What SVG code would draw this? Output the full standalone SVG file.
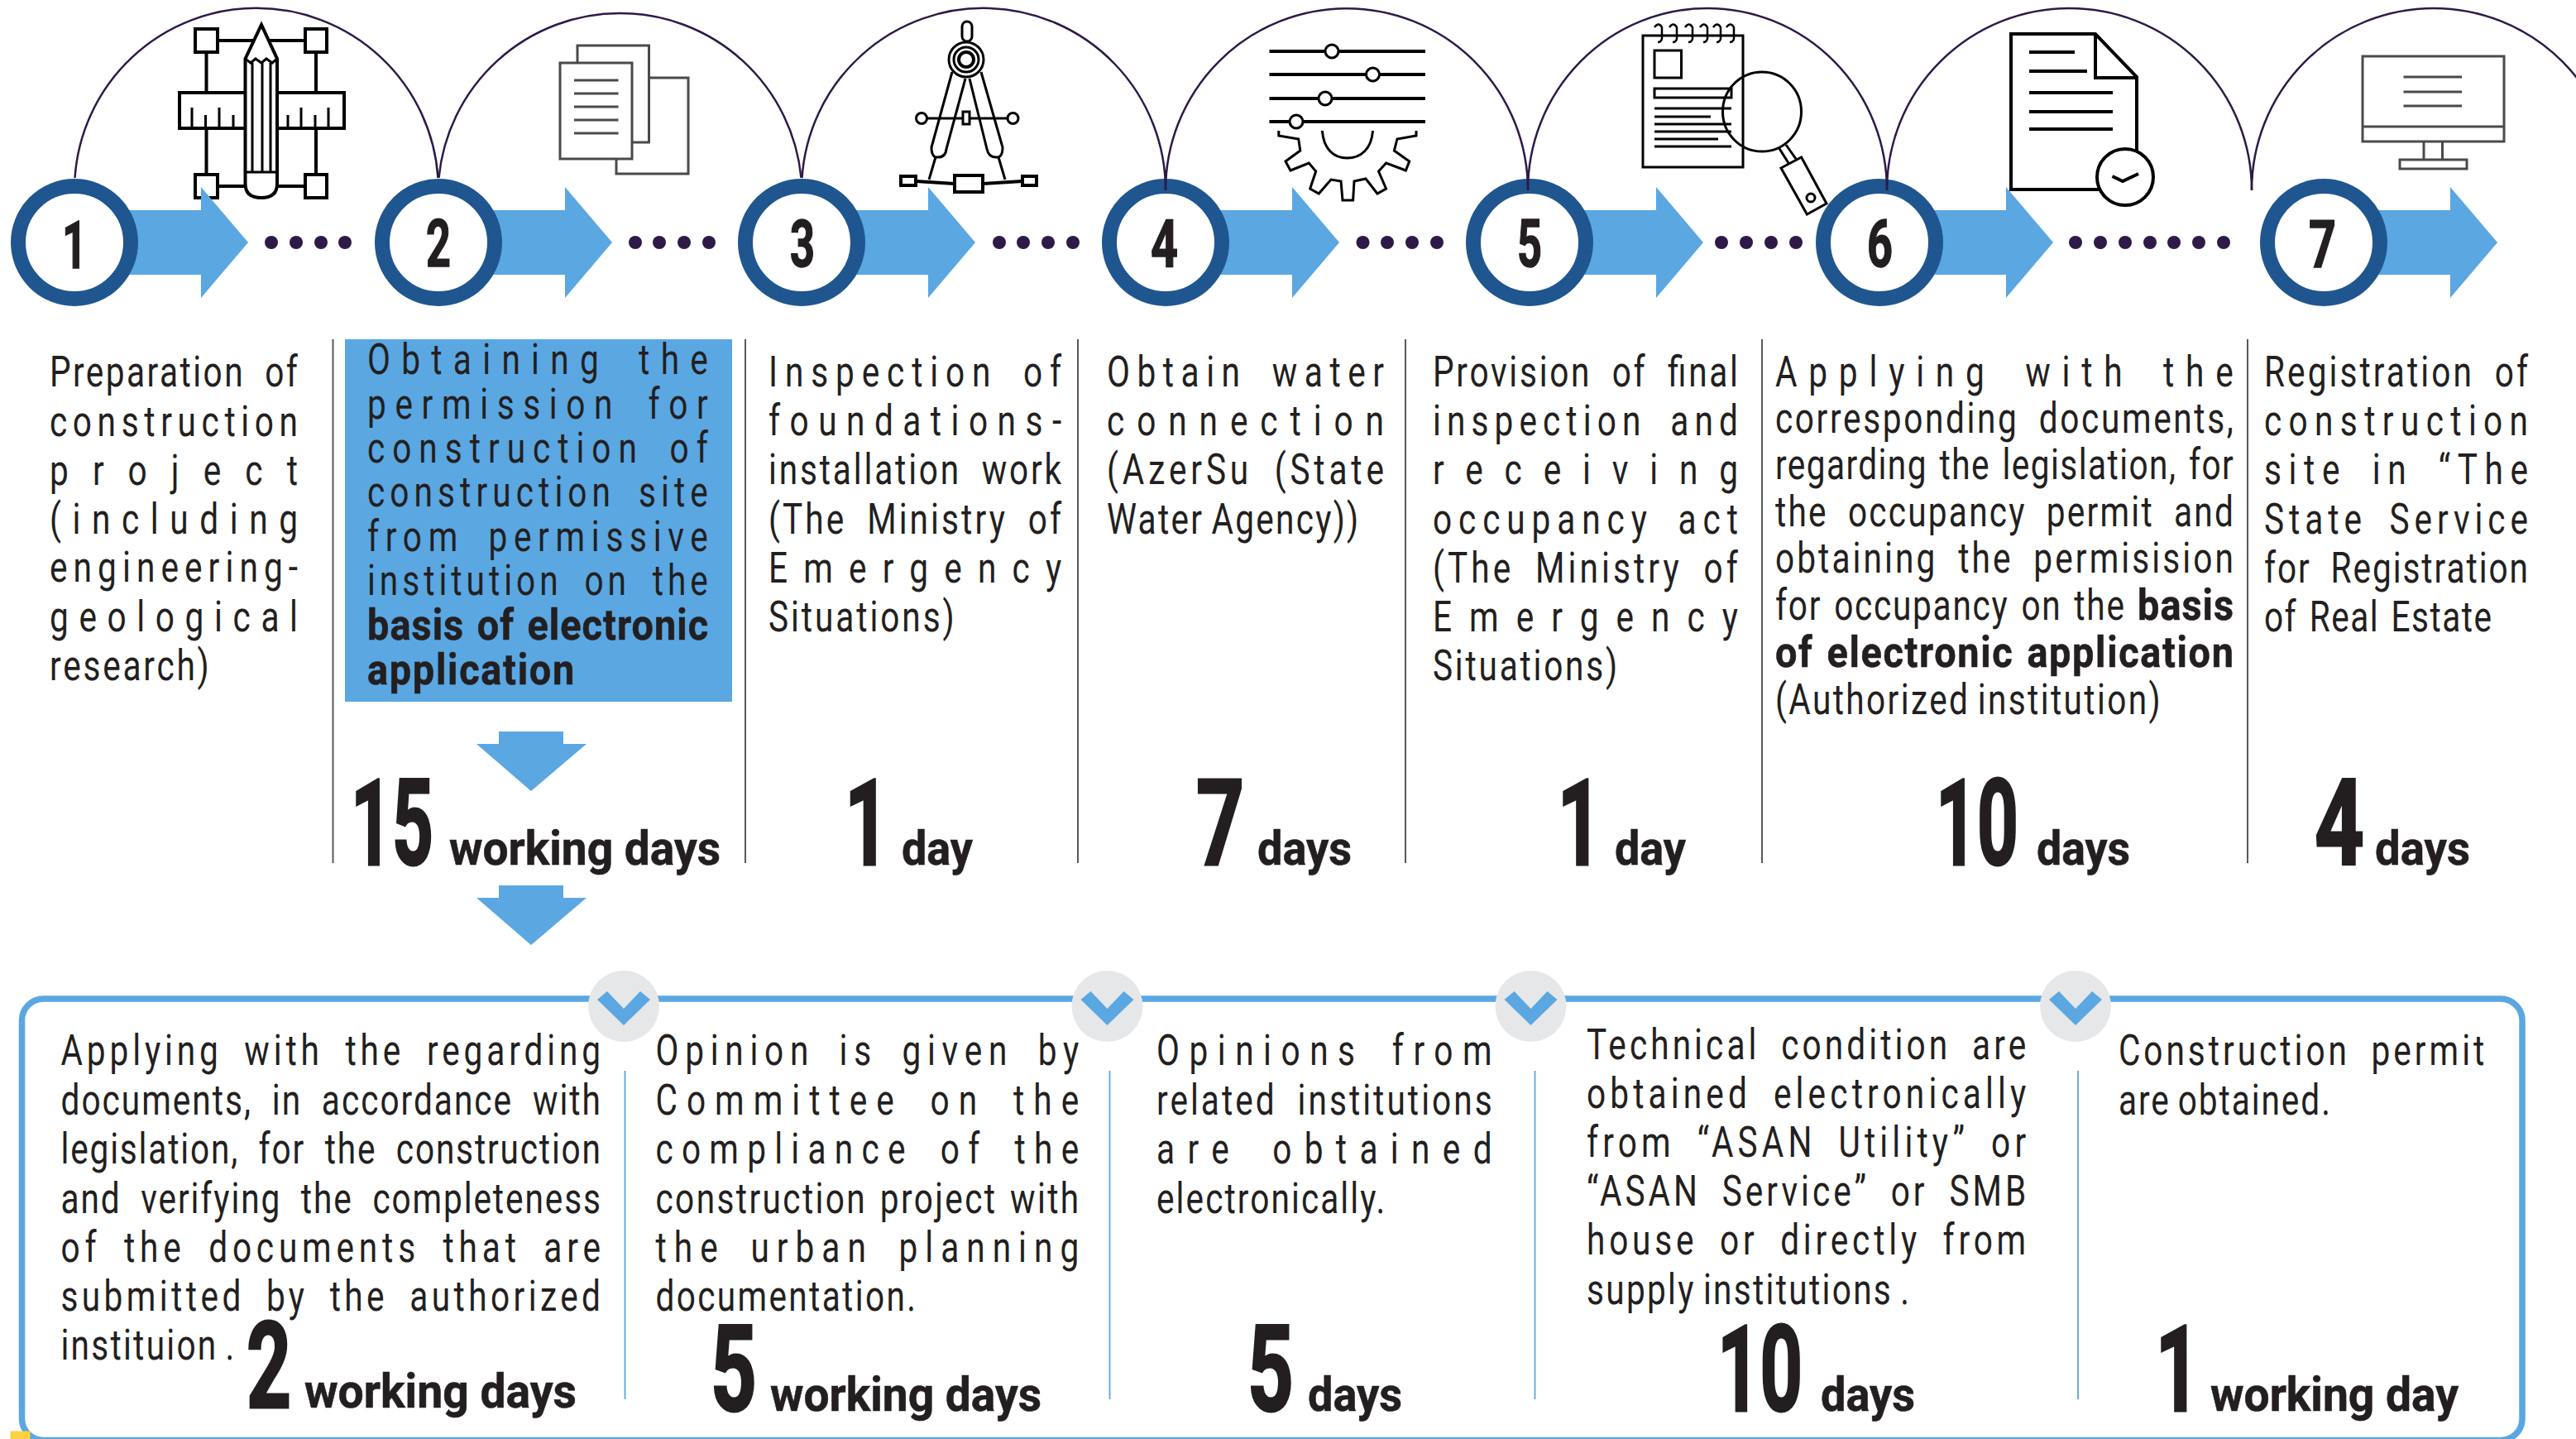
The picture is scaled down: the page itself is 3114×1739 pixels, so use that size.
<svg xmlns="http://www.w3.org/2000/svg" width="3114" height="1739" viewBox="0 0 3114 1739">
<style>
text{font-family:Roboto,"Liberation Sans",Arial,sans-serif;fill:#231f20}
.t{font-size:52px;word-spacing:15px}
.w{font-size:52px;word-spacing:-4px}
.m{font-size:52px;word-spacing:4px}
.b{font-size:52px;font-weight:700;word-spacing:3px;stroke:#231f20;stroke-width:.6}
.n{font-size:145px;font-weight:700;stroke:#231f20;stroke-width:3}
.d{font-size:58px;font-weight:700;stroke:#231f20;stroke-width:.6}
.c{font-size:80px;font-weight:700;stroke:#231f20;stroke-width:1.500}
.ar{fill:#5aa7e2}
.ring{fill:#fff;stroke:#20568f;stroke-width:18}
.arc{fill:none;stroke:#2d1a47;stroke-width:2.5}
.dot{fill:#2d1a47}
.rule{stroke:#58595b;stroke-width:2}
.sep{stroke:#5aa7e2;stroke-width:1.8}
.ic{fill:none;stroke:#000;stroke-width:4}
.ig{fill:none;stroke:#4a4a4a;stroke-width:3}
.igw{fill:#fff;stroke:#4a4a4a;stroke-width:3}
.wh{fill:#fff;stroke:#000;stroke-width:4}
.thin{fill:none;stroke:#000;stroke-width:3}
.kn{fill:#fff;stroke:#000;stroke-width:3}
</style>
<defs>
<path id="arrow" class="ar" d="M0 254H153V226L210 293L153 360V332H0Z"/>
<path id="down" class="ar" d="M603 0H681V15H709L642 72L576 15H603Z"/>
<g id="badge"><circle r="43" fill="#e6e7e8"/><path class="ar" d="M-32-8L-20-18L0 3L20-18L32-8L0 23Z"/></g>
<path id="spiral" d="M-5 33Q0 26 4 33V47Q3 51-1 51" fill="none" stroke="#000" stroke-width="2.5"/>
</defs>
<rect width="3114" height="1739" fill="#fff"/>

<g id="rules">
<path class="rule" d="M402.500 410V1043M901 410V1043M1303 410V1043M1699 410V1043M2130 410V1043M2717 410V1043"/>
</g>

<g id="step-1">
<g id="icon-1">
<path class="ic" d="M263 49H369M249.500 63V112M382 63V112M249.500 155V211M382 155V211M263 225H369"/>
<rect class="wh" x="236" y="35" width="27" height="28"/><rect class="wh" x="369" y="35" width="26" height="28"/>
<rect class="wh" x="236" y="211" width="27" height="28"/><rect class="wh" x="369" y="211" width="26" height="28"/>
<rect class="wh" x="217" y="112" width="199" height="43"/>
<path class="thin" d="M232 155V130M248.500 155V139M265 155V130M282 155V139M348 155V139M364 155V130M381 155V139M397 155V130"/>
<path class="wh" d="M296.500 71L316 30L335 71V222Q335 239 316 239Q296.500 239 296.500 222Z"/>
<path class="thin" d="M296.500 71L303 76L309 71L316 76L322 71L329 76L335 71M305 76V208M317 76V208M327 76V208M296.500 208H335"/>
</g>
<use href="#arrow" x="90"/>
<circle class="ring" cx="90" cy="293" r="68"/>
<text class="c" x="75" y="324" textLength="30" lengthAdjust="spacingAndGlyphs">1</text>
<text class="t" transform="matrix(.78 0 0 1 60 467)" textLength="384.600">Preparation of</text>
<text class="t" transform="matrix(.78 0 0 1 60 527)" textLength="384.600">construction</text>
<text class="t" transform="matrix(.78 0 0 1 60 586)" textLength="384.600">project</text>
<text class="t" transform="matrix(.78 0 0 1 60 645)" textLength="384.600">(including</text>
<text class="t" transform="matrix(.78 0 0 1 60 703)" textLength="384.600">engineering-</text>
<text class="t" transform="matrix(.78 0 0 1 60 763)" textLength="384.600">geological</text>
<text class="t" transform="matrix(.78 0 0 1 60 822)" textLength="247">research)</text>
</g>

<g id="step-2">
<g id="icon-2">
<rect class="ig" x="745" y="94" width="87" height="116"/>
<rect class="igw" x="698" y="55" width="86.500" height="117"/>
<rect class="igw" x="677" y="76" width="87" height="116"/>
<path class="ig" d="M694 97H747.500M694 113H747.500M694 129H747.500M694 145H747.500M694 161H747.500"/>
</g>
<use href="#arrow" x="530"/>
<circle class="ring" cx="530" cy="293" r="68"/>
<text class="c" x="515" y="322" textLength="30" lengthAdjust="spacingAndGlyphs">2</text>
<rect x="417" y="410" width="468" height="438" fill="#5aa7e2"/>
<text class="t" transform="matrix(.78 0 0 1 444 452)" textLength="528">Obtaining the</text>
<text class="t" transform="matrix(.78 0 0 1 444 505.500)" textLength="528">permission for</text>
<text class="t" transform="matrix(.78 0 0 1 444 559)" textLength="528">construction of</text>
<text class="t" transform="matrix(.78 0 0 1 444 612)" textLength="528">construction site</text>
<text class="t" transform="matrix(.78 0 0 1 444 666)" textLength="528">from permissive</text>
<text class="t" transform="matrix(.78 0 0 1 444 719)" textLength="528">institution on the</text>
<text class="b" transform="matrix(.9 0 0 1 444 773)" textLength="458">basis of electronic</text>
<text class="b" transform="matrix(.9 0 0 1 444 827)" textLength="278">application</text>
<use href="#down" y="884"/>
<text class="n" transform="matrix(.6 0 0 1 424 1045)">15</text>
<text class="d" x="543" y="1045" textLength="328" lengthAdjust="spacingAndGlyphs">working days</text>
<use href="#down" y="1070"/>
</g>

<g id="step-3">
<g id="icon-3">
<rect class="thin" x="1163" y="26" width="12" height="24" rx="6"/>
<circle class="thin" cx="1168" cy="72" r="21"/><circle class="thin" cx="1168" cy="72" r="15"/><circle class="ic" cx="1168" cy="72" r="9"/>
<path class="thin" d="M1114 143H1224M1151 87L1126 178Q1126 191 1134 190Q1143 190 1144 180L1167 95M1186 87L1212 178Q1212 191 1204 190Q1195 190 1193 180L1172 95M1131 190L1123 217M1207 190L1215 217"/>
<circle class="kn" cx="1114" cy="143" r="6.500"/><circle class="kn" cx="1224.500" cy="143" r="6.500"/>
<rect class="kn" x="1164" y="135" width="8" height="15"/>
<path class="ic" d="M1107 219L1154 222M1188 222L1236 219"/>
<rect class="wh" x="1154" y="212" width="34" height="20"/><rect class="wh" x="1089" y="213" width="18" height="11"/><rect class="wh" x="1236" y="213" width="17" height="11"/>
</g>
<use href="#arrow" x="969"/>
<circle class="ring" cx="969" cy="293" r="68"/>
<text class="c" x="955" y="322" textLength="30" lengthAdjust="spacingAndGlyphs">3</text>
<text class="t" transform="matrix(.78 0 0 1 929 467)" textLength="454">Inspection of</text>
<text class="t" transform="matrix(.78 0 0 1 929 526)" textLength="454">foundations-</text>
<text class="t" transform="matrix(.78 0 0 1 929 585)" textLength="454">installation work</text>
<text class="t" transform="matrix(.78 0 0 1 929 645)" textLength="454">(The Ministry of</text>
<text class="t" transform="matrix(.78 0 0 1 929 703.500)" textLength="454">Emergency</text>
<text class="t" transform="matrix(.78 0 0 1 929 762.500)" textLength="288">Situations)</text>
<text class="n" transform="matrix(.65 0 0 1 1021 1045)">1</text>
<text class="d" x="1090" y="1045" textLength="86" lengthAdjust="spacingAndGlyphs">day</text>
</g>

<g id="step-4">
<g id="icon-4">
<path class="ic" d="M1534.500 62H1723M1534.500 90H1723M1534.500 119H1723M1534.500 147H1723"/>
<circle class="kn" cx="1610" cy="62" r="8"/><circle class="kn" cx="1659.500" cy="90" r="8"/>
<circle class="kn" cx="1602" cy="119" r="8"/><circle class="kn" cx="1567" cy="147" r="8"/>
<path class="thin" d="M1545.800 158V164L1569.700 168L1571.800 182L1554 195L1560 206L1582.300 197L1590.700 207L1583.700 228L1594.200 234L1609 217L1621 219L1623 242H1635.600L1637 219L1651 216L1665 234L1675.600 228L1666.500 207L1675.600 197L1699.400 206L1703.700 195L1685.400 182L1689 168L1712 164V158M1598.400 158C1600 180 1612 191 1628.600 191C1645 191 1658 180 1659.500 158"/>
</g>
<use href="#arrow" x="1409"/>
<circle class="ring" cx="1409" cy="293" r="68"/>
<text class="c" x="1391" y="322" textLength="33" lengthAdjust="spacingAndGlyphs">4</text>
<text class="t" transform="matrix(.78 0 0 1 1338 467)" textLength="429.500">Obtain water</text>
<text class="t" transform="matrix(.78 0 0 1 1338 526)" textLength="429.500">connection</text>
<text class="t" transform="matrix(.78 0 0 1 1338 585)" textLength="429.500">(AzerSu (State</text>
<text class="w" transform="matrix(.78 0 0 1 1338 645)" textLength="390">Water Agency))</text>
<text class="n" transform="matrix(.7 0 0 1 1446 1045)">7</text>
<text class="d" x="1520" y="1045" textLength="114" lengthAdjust="spacingAndGlyphs">days</text>
</g>

<g id="step-5">
<g id="icon-5">
<rect class="kn" x="1986" y="43" width="121" height="159"/>
<use href="#spiral" x="2005"/><use href="#spiral" x="2023"/><use href="#spiral" x="2042"/><use href="#spiral" x="2060"/><use href="#spiral" x="2076"/><use href="#spiral" x="2092"/>
<rect class="thin" x="2000" y="61" width="32.500" height="33"/><rect class="thin" x="2000" y="107" width="93" height="11"/>
<path class="thin" d="M2000 131H2093M2000 141H2068M2000 150H2093M2000 159H2093M2000 168H2077M2000 177H2093"/>
<ellipse class="thin" cx="2130" cy="135" rx="47.500" ry="48"/>
<path class="thin" d="M2150 178L2162 197M2159 175L2171 192"/>
<path class="thin" d="M2153 203L2177.600 190L2208 246L2184.400 259Z"/><circle class="thin" cx="2189" cy="239" r="5"/>
</g>
<use href="#arrow" x="1849"/>
<circle class="ring" cx="1849" cy="293" r="68"/>
<text class="c" x="1834" y="322" textLength="30" lengthAdjust="spacingAndGlyphs">5</text>
<text class="t" transform="matrix(.78 0 0 1 1732 467)" textLength="473">Provision of final</text>
<text class="t" transform="matrix(.78 0 0 1 1732 526)" textLength="473">inspection and</text>
<text class="t" transform="matrix(.78 0 0 1 1732 585)" textLength="473">receiving</text>
<text class="t" transform="matrix(.78 0 0 1 1732 645)" textLength="473">occupancy act</text>
<text class="t" transform="matrix(.78 0 0 1 1732 703.500)" textLength="473">(The Ministry of</text>
<text class="t" transform="matrix(.78 0 0 1 1732 762.500)" textLength="473">Emergency</text>
<text class="t" transform="matrix(.78 0 0 1 1732 822)" textLength="286">Situations)</text>
<text class="n" transform="matrix(.65 0 0 1 1882.500 1045)">1</text>
<text class="d" x="1952" y="1045" textLength="86" lengthAdjust="spacingAndGlyphs">day</text>
</g>

<g id="step-6">
<g id="icon-6">
<path class="ic" d="M2553 229H2431V41H2533L2583 93V190M2533 41V94H2583M2453 63H2508M2453 86H2523M2453 112H2554M2453 135H2554M2453 156H2554"/>
<circle class="wh" cx="2569" cy="214" r="34"/>
<path class="ic" d="M2553.500 213L2566 219L2585 210"/>
</g>
<use href="#arrow" x="2272"/>
<circle class="ring" cx="2272" cy="293" r="68"/>
<text class="c" x="2257" y="322" textLength="31" lengthAdjust="spacingAndGlyphs">6</text>
<text class="t" transform="matrix(.78 0 0 1 2146 467)" textLength="710">Applying with the</text>
<text class="t" transform="matrix(.78 0 0 1 2146 523)" textLength="710">corresponding documents,</text>
<text class="m" transform="matrix(.78 0 0 1 2146 579)" textLength="710">regarding the legislation, for</text>
<text class="t" transform="matrix(.78 0 0 1 2146 636)" textLength="710">the occupancy permit and</text>
<text class="t" transform="matrix(.78 0 0 1 2146 692)" textLength="710">obtaining the permisision</text>
<text class="m" transform="matrix(.78 0 0 1 2146 749)" textLength="541">for occupancy on the</text>
<text class="b" transform="matrix(.9 0 0 1 2584 749)" textLength="129">basis</text>
<text class="b" transform="matrix(.9 0 0 1 2146 806)" textLength="615.500">of electronic application</text>
<text class="w" transform="matrix(.78 0 0 1 2146 863)" textLength="597">(Authorized institution)</text>
<text class="n" transform="matrix(.6 0 0 1 2340 1045)">10</text>
<text class="d" x="2462" y="1045" textLength="113" lengthAdjust="spacingAndGlyphs">days</text>
</g>

<g id="step-7">
<g id="icon-7">
<rect class="ig" x="2856" y="68" width="171" height="103"/>
<path class="ig" d="M2856 153H3027M2905.500 93H2976M2905.500 111H2976M2905.500 128H2976M2930 171V193M2952.500 171V193"/>
<rect class="ig" x="2901" y="193" width="81" height="11"/>
</g>
<use href="#arrow" x="2809"/>
<circle class="ring" cx="2809" cy="293" r="68"/>
<text class="c" x="2791" y="323" textLength="33" lengthAdjust="spacingAndGlyphs">7</text>
<text class="t" transform="matrix(.78 0 0 1 2737 467)" textLength="409">Registration of</text>
<text class="t" transform="matrix(.78 0 0 1 2737 526)" textLength="409">construction</text>
<text class="t" transform="matrix(.78 0 0 1 2737 585)" textLength="409">site in “The</text>
<text class="t" transform="matrix(.78 0 0 1 2737 645)" textLength="409">State Service</text>
<text class="t" transform="matrix(.78 0 0 1 2737 703.500)" textLength="409">for Registration</text>
<text class="m" transform="matrix(.78 0 0 1 2737 762.500)" textLength="352.500">of Real Estate</text>
<text class="n" transform="matrix(.72 0 0 1 2798 1045)">4</text>
<text class="d" x="2871" y="1045" textLength="115" lengthAdjust="spacingAndGlyphs">days</text>
</g>

<g id="connectors">
<path class="arc" d="M90.500 215A220 220 0 0 1 529.500 215"/>
<path class="arc" d="M530.500 215A220 220 0 0 1 968.500 215"/>
<path class="arc" d="M969.500 215A220 220 0 0 1 1409 230"/>
<path class="arc" d="M1409 230A219 220 0 0 1 1847 230"/>
<path class="arc" d="M1847 230A217 220 0 0 1 2281 230"/>
<path class="arc" d="M2281 230A220.500 220 0 0 1 2722 230"/>
<path class="arc" d="M2722 230A220 220 0 0 1 3162 230"/>
<g class="dot">
<circle cx="328" cy="293" r="8"/><circle cx="358" cy="293" r="8"/><circle cx="388" cy="293" r="8"/><circle cx="417" cy="293" r="8"/>
<circle cx="768" cy="293" r="8"/><circle cx="797" cy="293" r="8"/><circle cx="827" cy="293" r="8"/><circle cx="857" cy="293" r="8"/>
<circle cx="1208" cy="293" r="8"/><circle cx="1237" cy="293" r="8"/><circle cx="1267" cy="293" r="8"/><circle cx="1297" cy="293" r="8"/>
<circle cx="1647.500" cy="293" r="8"/><circle cx="1677" cy="293" r="8"/><circle cx="1707" cy="293" r="8"/><circle cx="1737" cy="293" r="8"/>
<circle cx="2081" cy="293" r="8"/><circle cx="2111" cy="293" r="8"/><circle cx="2141" cy="293" r="8"/><circle cx="2171" cy="293" r="8"/>
<circle cx="2509" cy="293" r="8"/><circle cx="2539" cy="293" r="8"/><circle cx="2569" cy="293" r="8"/><circle cx="2599" cy="293" r="8"/><circle cx="2628" cy="293" r="8"/><circle cx="2658" cy="293" r="8"/><circle cx="2688" cy="293" r="8"/>
</g>
</g>

<g id="detail-frame">
<rect x="26.500" y="1207" width="3022.500" height="533.500" rx="26" fill="#fff" stroke="#5aa7e2" stroke-width="7.500"/>
<path class="sep" d="M755.500 1294V1691M1341.500 1294V1691M1855.500 1294V1691M2512 1294V1691"/>
<use href="#badge" x="754" y="1216"/><use href="#badge" x="1338.500" y="1216"/><use href="#badge" x="1850.500" y="1216"/><use href="#badge" x="2509" y="1216"/>
<rect x="12.500" y="1729.500" width="24" height="9.500" fill="#fdd13f"/>
</g>

<g id="detail-1">
<text class="t" transform="matrix(.78 0 0 1 73.500 1287)" textLength="836.500">Applying with the regarding</text>
<text class="t" transform="matrix(.78 0 0 1 73.500 1346.500)" textLength="836.500">documents, in accordance with</text>
<text class="t" transform="matrix(.78 0 0 1 73.500 1406)" textLength="836.500">legislation, for the construction</text>
<text class="t" transform="matrix(.78 0 0 1 73.500 1465.500)" textLength="836.500">and verifying the completeness</text>
<text class="t" transform="matrix(.78 0 0 1 73.500 1525)" textLength="836.500">of the documents that are</text>
<text class="t" transform="matrix(.78 0 0 1 73.500 1584)" textLength="836.500">submitted by the authorized</text>
<text class="w" transform="matrix(.78 0 0 1 73.500 1643)" textLength="269">instituion .</text>
<text class="n" transform="matrix(.65 0 0 1 298 1701)">2</text>
<text class="d" x="368" y="1701" textLength="329" lengthAdjust="spacingAndGlyphs">working days</text>
</g>
<g id="detail-2">
<text class="t" transform="matrix(.78 0 0 1 792.500 1287)" textLength="656">Opinion is given by</text>
<text class="t" transform="matrix(.78 0 0 1 792.500 1346.500)" textLength="656">Committee on the</text>
<text class="t" transform="matrix(.78 0 0 1 792.500 1406)" textLength="656">compliance of the</text>
<text class="m" transform="matrix(.78 0 0 1 792.500 1465.500)" textLength="656">construction project with</text>
<text class="t" transform="matrix(.78 0 0 1 792.500 1525)" textLength="656">the urban planning</text>
<text class="t" transform="matrix(.78 0 0 1 792.500 1584)" textLength="403">documentation.</text>
<text class="n" transform="matrix(.67 0 0 1 859 1705)">5</text>
<text class="d" x="931" y="1705" textLength="328" lengthAdjust="spacingAndGlyphs">working days</text>
</g>
<g id="detail-3">
<text class="t" transform="matrix(.78 0 0 1 1398 1287)" textLength="520">Opinions from</text>
<text class="t" transform="matrix(.78 0 0 1 1398 1346.500)" textLength="520">related institutions</text>
<text class="t" transform="matrix(.78 0 0 1 1398 1406)" textLength="520">are obtained</text>
<text class="t" transform="matrix(.78 0 0 1 1398 1465.500)" textLength="354">electronically.</text>
<text class="n" transform="matrix(.67 0 0 1 1508 1705)">5</text>
<text class="d" x="1581" y="1705" textLength="114" lengthAdjust="spacingAndGlyphs">days</text>
</g>
<g id="detail-4">
<text class="t" transform="matrix(.78 0 0 1 1918 1279.500)" textLength="681">Technical condition are</text>
<text class="t" transform="matrix(.78 0 0 1 1918 1339)" textLength="681">obtained electronically</text>
<text class="t" transform="matrix(.78 0 0 1 1918 1398)" textLength="681">from “ASAN Utility” or</text>
<text class="t" transform="matrix(.78 0 0 1 1918 1457)" textLength="681">“ASAN Service” or SMB</text>
<text class="t" transform="matrix(.78 0 0 1 1918 1516)" textLength="681">house or directly from</text>
<text class="w" transform="matrix(.78 0 0 1 1918 1575.500)" textLength="500">supply institutions .</text>
<text class="n" transform="matrix(.62 0 0 1 2076 1705)">10</text>
<text class="d" x="2201" y="1705" textLength="114" lengthAdjust="spacingAndGlyphs">days</text>
</g>
<g id="detail-5">
<text class="t" transform="matrix(.78 0 0 1 2561 1287)" textLength="567">Construction permit</text>
<text class="w" transform="matrix(.78 0 0 1 2561 1346.500)" textLength="328">are obtained.</text>
<text class="n" transform="matrix(.65 0 0 1 2605.500 1705)">1</text>
<text class="d" x="2672" y="1705" textLength="300" lengthAdjust="spacingAndGlyphs">working day</text>
</g>
</svg>
